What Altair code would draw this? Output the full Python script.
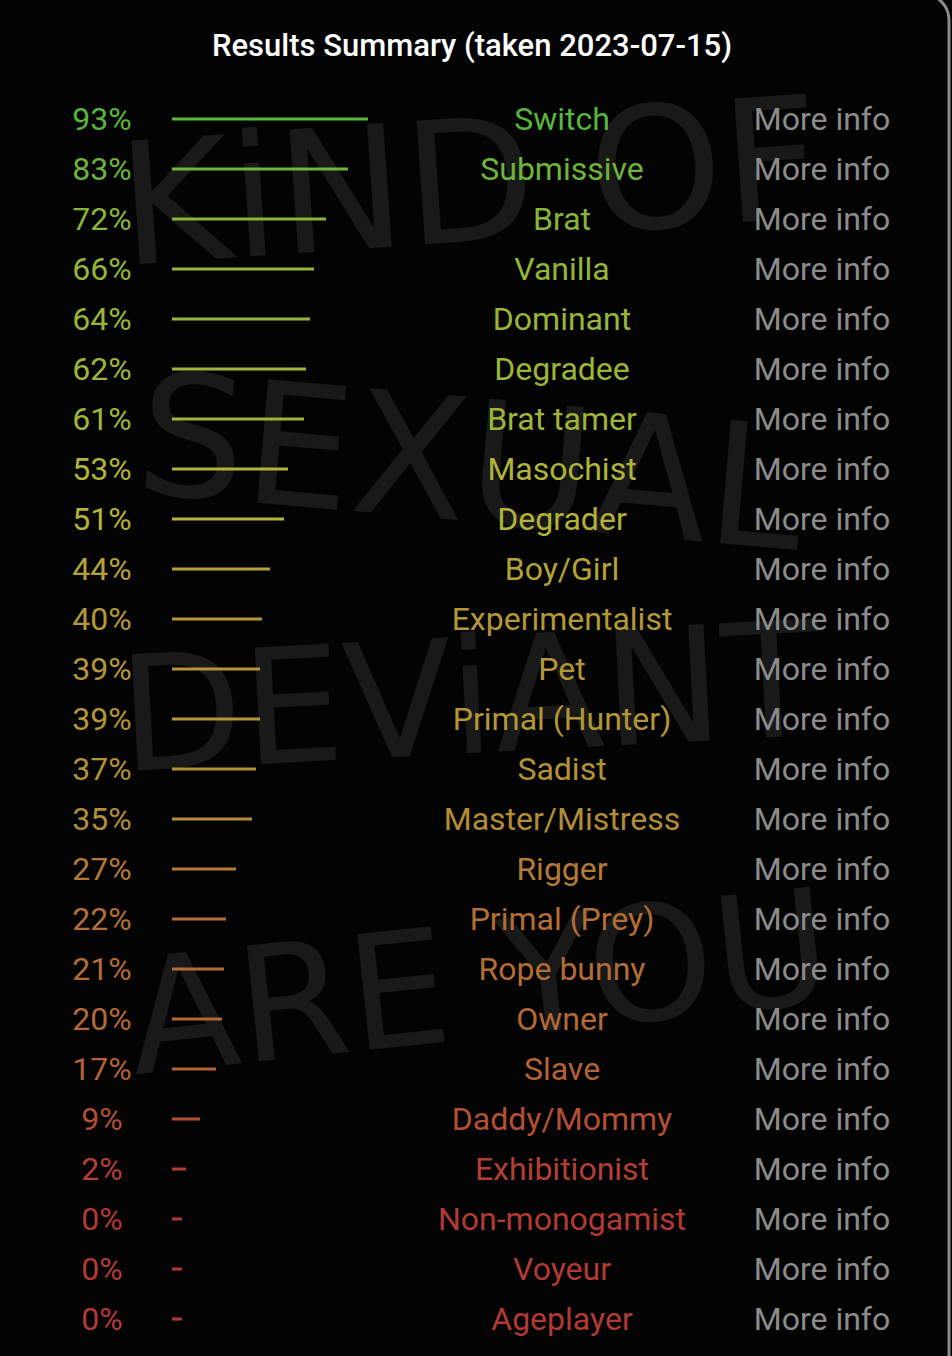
import altair as alt
import pandas as pd

categories = ["Switch", "Submissive", "Brat", "Vanilla", "Dominant", "Degradee",
              "Brat tamer", "Masochist", "Degrader", "Boy/Girl", "Experimentalist",
              "Pet", "Primal (Hunter)", "Sadist", "Master/Mistress", "Rigger",
              "Primal (Prey)", "Rope bunny", "Owner", "Slave", "Daddy/Mommy",
              "Exhibitionist", "Non-monogamist", "Voyeur", "Ageplayer"]
percents = [93, 83, 72, 66, 64, 62, 61, 53, 51, 44, 40, 39, 39, 37, 35, 27,
            22, 21, 20, 17, 9, 2, 0, 0, 0]
title_text = "Results Summary (taken 2023-07-15)"
link_text = "More info"

df = pd.DataFrame({
    "row": list(range(len(categories))),
    "name": categories,
    "pct": percents,
})
df["label"] = df["pct"].astype(str) + "%"
df["start"] = -5
df["link"] = link_text

W, H = 952, 1356
FONT = "Roboto"
FS = 32

xs = alt.Scale(domain=[-91, 385])
ys = alt.Scale(domain=[-119 / 50, (H - 119) / 50], reverse=True)
cs = alt.Scale(domain=[0, 100], range=["hsl(3,55%,45%)", "hsl(113,52%,47%)"],
               interpolate="hsl")

base = alt.Chart(df)
y_enc = alt.Y("row:Q", scale=ys, axis=None)
c_enc = alt.Color("pct:Q", scale=cs, legend=None)

# faint graffiti-like background words
graffiti = []
words = [("KiND OF", 470, 190, 170, -4), ("SEXUAL", 470, 470, 170, 5),
         ("DEViANT", 470, 705, 160, -3), ("ARE YOU", 480, 990, 160, -6)]
for w, gx, gy, fs, ang in words:
    graffiti.append(
        alt.Chart(pd.DataFrame({"t": [w]})).mark_text(
            font="DejaVu Sans", fontSize=fs, color="#191919",
            align="center", baseline="middle", angle=(ang % 360)
        ).encode(text="t:N", x=alt.value(gx), y=alt.value(gy))
    )

bars = base.mark_rule(strokeWidth=3).encode(
    x=alt.X("start:Q", scale=xs, axis=None),
    x2="pct:Q",
    y=y_enc,
    color=c_enc,
)

pct_text = base.mark_text(font=FONT, fontSize=FS, align="center", baseline="middle", dy=1).encode(
    x=alt.value(102), y=y_enc, text="label:N", color=c_enc,
)

name_text = base.mark_text(font=FONT, fontSize=FS, align="center", baseline="middle", dy=1).encode(
    x=alt.value(562), y=y_enc, text="name:N", color=c_enc,
)

link = base.mark_text(font=FONT, fontSize=FS, align="center", baseline="middle", dy=1,
                      color="#8c8c8c").encode(
    x=alt.value(822), y=y_enc, text="link:N",
)

title = alt.Chart(pd.DataFrame({"t": [title_text]})).mark_text(
    font=FONT, fontSize=31, fontWeight=500, color="#ffffff", align="center", baseline="middle"
).encode(text="t:N", x=alt.value(472), y=alt.value(47))

frame = alt.Chart(pd.DataFrame({"a": [0]})).mark_rect(
    cornerRadius=26, stroke="#8a8a8a", strokeWidth=3, fillOpacity=0, fill="#000000"
).encode(x=alt.value(-60), x2=alt.value(949), y=alt.value(-6), y2=alt.value(1420))

chart = alt.layer(*graffiti, frame, bars, pct_text, name_text, link, title).properties(
    width=W, height=H, padding=0, autosize="none", background="#030303"
).configure_view(stroke=None)

chart.save("out.html", embed_options={"renderer": "svg", "actions": False})
